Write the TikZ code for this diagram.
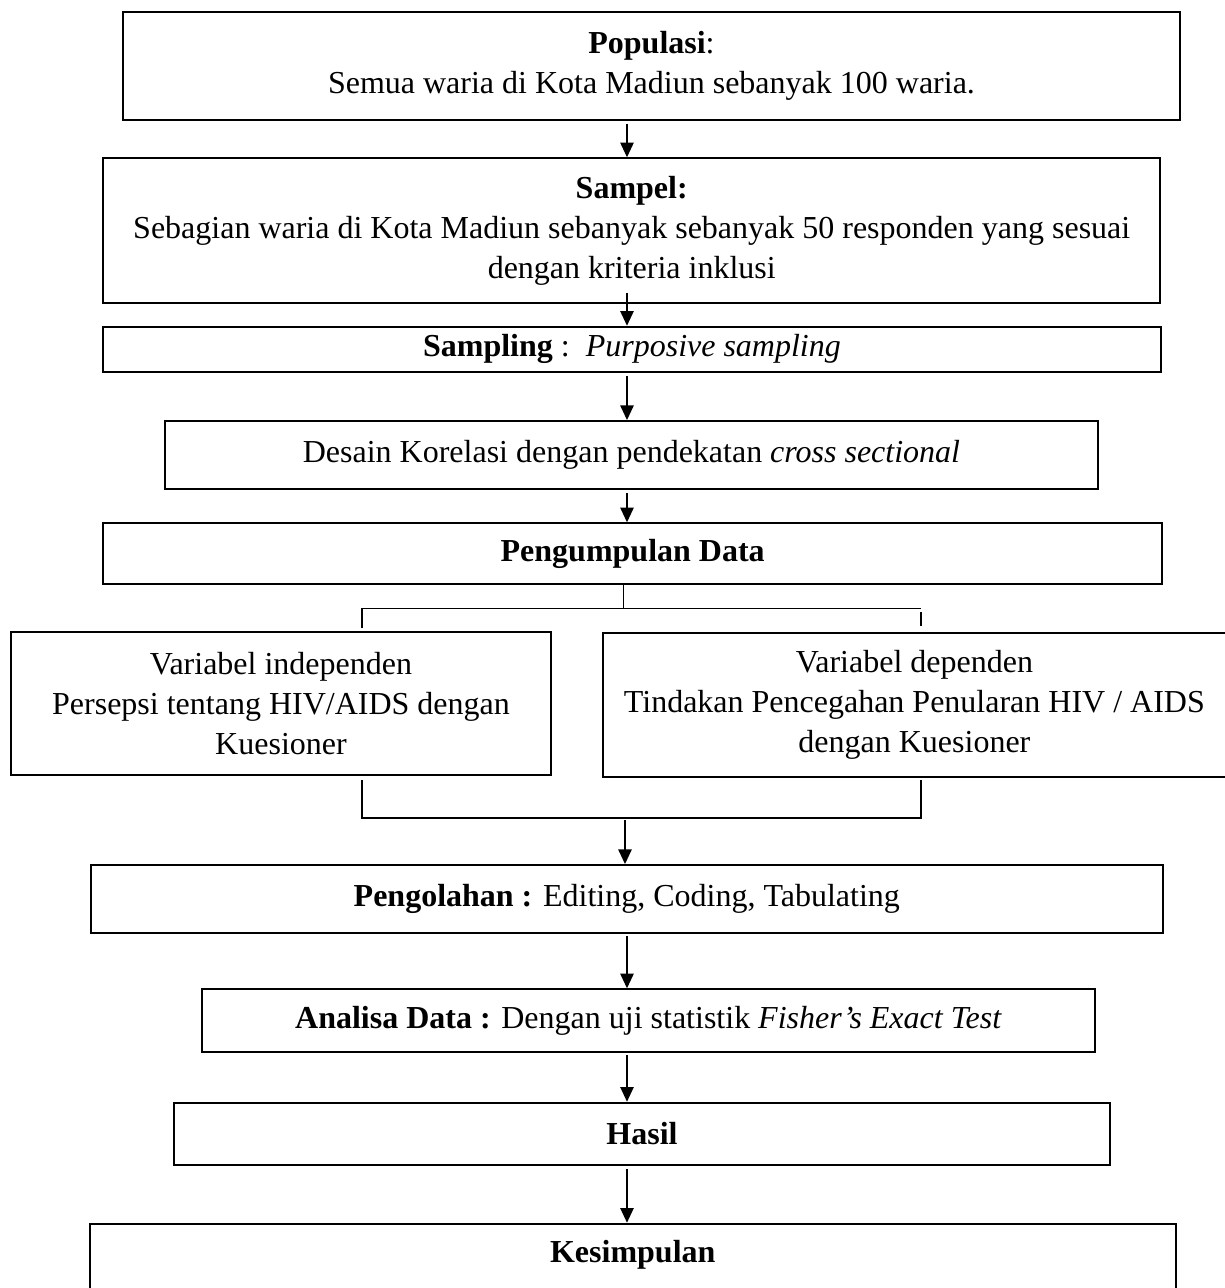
\documentclass[tikz,border=0pt]{standalone}
\usepackage{fontspec}
\setmainfont{Liberation Serif}
\usetikzlibrary{arrows.meta}
\tikzset{
	flowbox/.style={
		draw, rectangle, line width=0.75pt,
		align=center, inner sep=0pt, text=black,
		font=\fontsize{12}{15}\selectfont
	},
}
\begin{document}
\begin{tikzpicture}[x=0.375pt, y=-0.375pt,
			flow_arrow/.style={-{Triangle[length=5.5pt,width=5pt]}, line width=0.6pt, shorten <=1pt},
			bracket/.style={line width=0.6pt}]
		\useasboundingbox (0,0) rectangle (1225,1288);
		\clip (0,0) rectangle (1225,1288);
		\coordinate (spine) at (627,0);
		\node[flowbox, minimum width=396.4pt, minimum height=40.6pt] (pop) at (651.5,65.9)
			{\textbf{Populasi}:\\Semua waria di Kota Madiun sebanyak 100 waria.};
		\node[flowbox, minimum width=396.2pt, minimum height=54.4pt] (sam) at (631.75,230.8)
			{\textbf{Sampel:}\\Sebagian waria di Kota Madiun sebanyak sebanyak 50 responden yang sesuai\\dengan kriteria inklusi};
		\node[flowbox, minimum width=396.8pt, minimum height=17pt] (smp) at (632,349.4)
			{\textbf{Sampling} :\ \ \textit{Purposive sampling}};
		\node[flowbox, minimum width=349.9pt, minimum height=25.6pt] (des) at (631.5,455.2)
			{Desain Korelasi dengan pendekatan \textit{cross sectional}};
		\node[flowbox, minimum width=397pt, minimum height=22.8pt] (pgd) at (632.7,553.7)
			{\textbf{Pengumpulan Data}};
		\node[flowbox, minimum width=202.5pt, minimum height=53.7pt] (ind) at (281,703.4)
			{Variabel independen\\Persepsi tentang HIV/AIDS dengan\\Kuesioner};
		\node[flowbox, minimum width=233.7pt, minimum height=54.1pt] (dep) at (914.4,704.9)
			{Variabel dependen\\Tindakan Pencegahan Penularan HIV / AIDS\\dengan Kuesioner};
		\node[flowbox, minimum width=402.2pt, minimum height=25.3pt] (olh) at (626.8,898.8)
			{\textbf{Pengolahan :} Editing, Coding, Tabulating};
		\node[flowbox, minimum width=334.9pt, minimum height=23.4pt] (ana) at (648.5,1020.5)
			{\textbf{Analisa Data :} Dengan uji statistik \textit{Fisher’s Exact Test}};
		\node[flowbox, minimum width=351pt, minimum height=23.4pt] (has) at (642,1133.9)
			{\textbf{Hasil}};
		\node[flowbox, anchor=north, minimum width=407.1pt, inner ysep=6.4pt,
			text height=8.2pt, text depth=40pt] (kes) at (632.75,1222.7)
			{\textbf{Kesimpulan}};
		\coordinate (sam_out) at (627,290);
		\coordinate (forkm) at (623.3,608.3);
		\coordinate (forkl) at (361.7,608.3);
		\coordinate (forkr) at (920.7,608.3);
		\coordinate (joinl) at (362,817.7);
		\coordinate (joinr) at (920.7,817.7);
		\coordinate (joinm) at (625,817.7);
		\draw[flow_arrow] (pop.south -| spine) -- (sam.north -| spine);
		\draw[flow_arrow] (sam_out) -- (smp.north -| spine);
		\draw[flow_arrow] (smp.south -| spine) -- (des.north -| spine);
		\draw[flow_arrow] (des.south -| spine) -- (pgd.north -| spine);
		\draw[bracket] (pgd.south -| forkm) -- (forkm);
		\draw[bracket] ([yshift=0.9pt]ind.north -| forkl) -- (forkl) -- (forkr);
		\draw[bracket] ([yshift=-1.3pt]forkr) -- ([yshift=2pt]dep.north -| forkr);
		\draw[bracket] ([yshift=-1.5pt]ind.south -| joinl) -- (joinl) -- (joinr) -- ([yshift=-0.75pt]dep.south -| joinr);
		\draw[flow_arrow] (joinm) -- (olh.north -| joinm);
		\draw[flow_arrow] (olh.south -| spine) -- (ana.north -| spine);
		\draw[flow_arrow] (ana.south -| spine) -- (has.north -| spine);
		\draw[flow_arrow] (has.south -| spine) -- (kes.north -| spine);
	\end{tikzpicture}
\end{document}
